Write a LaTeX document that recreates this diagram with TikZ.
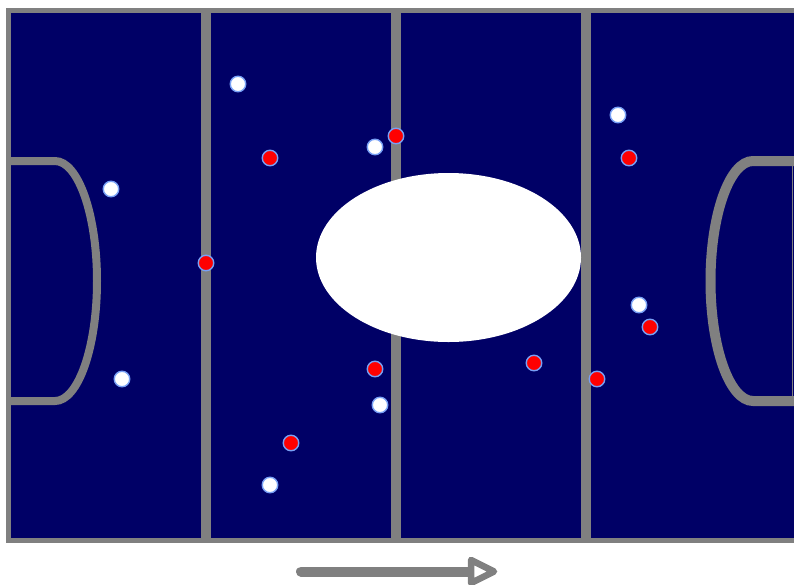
\documentclass[tikz,border=0pt]{standalone}
\definecolor{navyfield}{RGB}{0,0,102}
\definecolor{linegrey}{RGB}{128,128,128}
\definecolor{rimblue}{RGB}{120,160,245}
\tikzset{
  fieldline/.style={draw=linegrey, line width=10},
  whitep/.style={circle, fill=white, draw=rimblue, line width=1.4, minimum size=15.5, inner sep=0},
  redp/.style={circle, fill=red, draw=rimblue, line width=1.4, minimum size=15.5, inner sep=0}
}
\begin{document}
\begin{tikzpicture}[x=1pt,y=-1pt]
\useasboundingbox (0,0) rectangle (794,584);
\clip (0,0) rectangle (794,584);
\fill[white] (0,0) rectangle (794,584);
% field
\fill[navyfield] (8.5,10) rectangle (805,540);
\draw[linegrey, line width=5] (805,10) -- (8.5,10) -- (8.5,540) -- (805,540);
% vertical lines
\draw[fieldline] (205.5,10) -- (205.5,540);
\draw[fieldline] (396,10) -- (396,540);
\draw[fieldline] (586,10) -- (586,540);
% left D
\draw[linegrey, line width=8] (8.5,161) -- (55,161) arc[start angle=-90, end angle=90, x radius=42, y radius=120] -- (8.5,401);
% right D
\draw[linegrey, line width=10] (800,161) -- (753,161) arc[start angle=270, end angle=90, x radius=42.5, y radius=120] -- (800,401);
\draw[linegrey, line width=1.5] (792.5,161) -- (792.5,401);
% centre ellipse
\fill[white] (448.5,257.5) ellipse[x radius=132.5, y radius=84.5];
% white players
\node[whitep] (w1) at (238,84) {};
\node[whitep] (w2) at (111,189) {};
\node[whitep] (w3) at (122,379) {};
\node[whitep] (w4) at (375,147) {};
\node[whitep] (w5) at (380,405) {};
\node[whitep] (w6) at (270,485) {};
\node[whitep] (w7) at (618,115) {};
\node[whitep] (w8) at (639,305) {};
% red players
\node[redp] (r1) at (270,158) {};
\node[redp] (r2) at (206,263) {};
\node[redp] (r3) at (396,136) {};
\node[redp] (r4) at (375,369) {};
\node[redp] (r5) at (291,443) {};
\node[redp] (r6) at (534,363) {};
\node[redp] (r7) at (597,379) {};
\node[redp] (r8) at (629,158) {};
\node[redp] (r9) at (650,327) {};
% direction arrow
\coordinate (a0) at (301,571.5);
\coordinate (a1) at (471,571.5);
\draw[linegrey, line width=10, line cap=round] (a0) -- (a1);
\draw[linegrey, fill=white, line width=6.5, line join=round] (471,560) -- (494,571.5) -- (471,583) -- cycle;
\end{tikzpicture}
\end{document}
